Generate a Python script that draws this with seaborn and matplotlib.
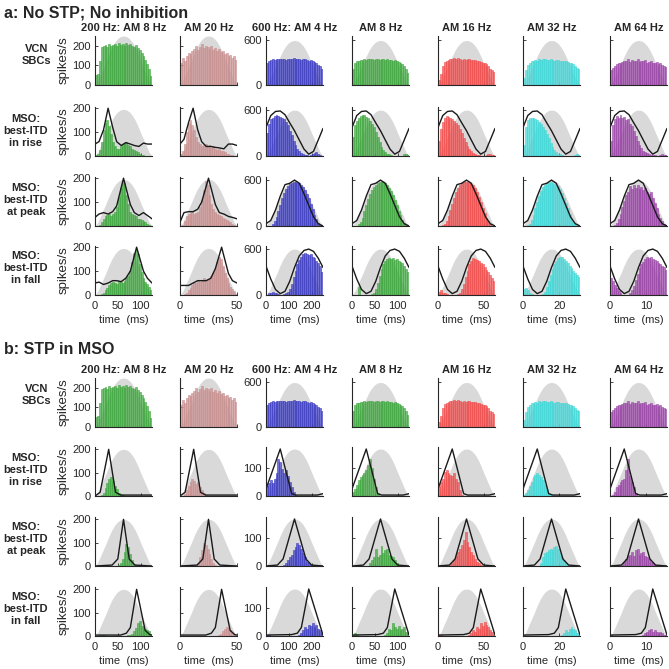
import numpy as np
import pandas as pd
import seaborn as sns
import matplotlib.pyplot as plt


# ---- stimulus columns ----
col_titles = ["200 Hz: AM 8 Hz", "AM 20 Hz", "600 Hz: AM 4 Hz", "AM 8 Hz",
              "AM 16 Hz", "AM 32 Hz", "AM 64 Hz"]
periods = [125, 50, 250, 125, 62.5, 31.25, 15.625]
col_colors = ["#3fa83f", "#c98f8f", "#3c3cc4", "#3fa83f", "#f24c4c", "#40d8d8", "#9b45a8"]
x_ticks = [[0, 50, 100], [0, 50], [0, 100, 200], [0, 50, 100], [0, 50], [0, 20], [0, 10]]
row_labels = ["VCN\nSBCs", "MSO:\nbest-ITD\nin rise", "MSO:\nbest-ITD\nat peak", "MSO:\nbest-ITD\nin fall"]

# ---- grey stimulus envelope (normalised, one period) ----
env_phase = [0, .05, .1, .15, .2, .25, .3, .35, .4, .45, .5, .55, .6, .65, .7, .75, .8, .85, .9, .95, 1]
env_shape = [0, .08, .22, .36, .5, .65, .78, .88, .95, .99, 1, .99, .95, .88, .78, .65, .5, .36, .22, .08, 0]

# ---- VCN SBC PSTHs (spikes/s), same in a and b ----
vcn_hist = [
    [50, 55, 120, 195, 200, 205, 195, 210, 200, 205, 210, 200, 215, 205, 210, 200, 215, 205, 210, 200, 195, 205, 190, 180, 165, 150, 130, 105, 80, 45],
    [110, 140, 125, 150, 165, 160, 175, 185, 200, 180, 195, 210, 190, 200, 195, 185, 200, 180, 190, 175, 185, 170, 175, 160, 165, 150, 155, 140, 150, 130],
    [290, 330, 340, 345, 340, 350, 345, 355, 345, 350, 340, 355, 350, 345, 360, 350, 345, 350, 340, 345, 350, 340, 330, 335, 320, 305, 290, 270, 250, 220],
    [210, 300, 320, 330, 340, 335, 345, 340, 350, 345, 355, 340, 350, 345, 340, 350, 345, 340, 345, 335, 340, 330, 335, 320, 310, 300, 280, 260, 220, 160],
    [70, 150, 250, 310, 330, 340, 350, 345, 360, 350, 370, 345, 340, 355, 340, 350, 345, 340, 335, 340, 330, 320, 310, 300, 290, 280, 250, 220, 200, 180],
    [100, 200, 270, 300, 320, 330, 340, 330, 345, 340, 350, 345, 340, 335, 345, 340, 330, 335, 340, 330, 320, 330, 320, 310, 300, 290, 280, 260, 230, 210],
    [200, 230, 260, 280, 300, 290, 310, 330, 320, 350, 310, 340, 330, 320, 350, 310, 330, 320, 340, 300, 310, 320, 300, 290, 310, 280, 290, 270, 260, 240],
]

# ---- a: MSO PSTHs, no STP ----
a_rise_hist = [
    [5, 10, 25, 60, 110, 140, 150, 125, 90, 60, 40, 30, 30, 40, 50, 55, 60, 45, 40, 30, 25, 20, 15, 10, 5, 3, 2, 0, 0, 0],
    [10, 20, 50, 100, 140, 150, 130, 110, 80, 60, 50, 40, 45, 50, 40, 45, 35, 40, 30, 25, 30, 20, 20, 15, 10, 8, 5, 3, 2, 0],
    [300, 420, 480, 500, 520, 530, 520, 510, 500, 480, 440, 400, 330, 270, 200, 140, 90, 60, 40, 25, 15, 10, 5, 10, 20, 40, 50, 30, 10, 5],
    [250, 400, 460, 500, 520, 540, 530, 510, 490, 460, 420, 380, 320, 250, 180, 120, 80, 50, 30, 20, 10, 5, 5, 3, 2, 2, 5, 20, 30, 10],
    [200, 350, 450, 500, 520, 510, 500, 480, 460, 430, 400, 350, 300, 240, 180, 130, 90, 60, 40, 25, 15, 10, 5, 5, 5, 10, 20, 25, 15, 10],
    [150, 380, 470, 500, 500, 490, 480, 470, 450, 420, 380, 340, 290, 230, 170, 120, 80, 50, 30, 20, 10, 5, 5, 3, 2, 3, 5, 15, 20, 10],
    [200, 400, 480, 520, 500, 540, 490, 510, 470, 480, 420, 390, 330, 260, 200, 150, 110, 70, 50, 40, 25, 15, 10, 10, 5, 5, 10, 20, 15, 10],
]
a_peak_hist = [
    [0, 0, 5, 15, 30, 40, 45, 50, 40, 50, 60, 80, 120, 160, 190, 180, 130, 90, 60, 50, 45, 40, 30, 30, 25, 20, 15, 10, 5, 0],
    [0, 5, 20, 40, 50, 55, 60, 50, 55, 60, 80, 110, 150, 190, 170, 130, 90, 70, 60, 50, 45, 40, 35, 30, 25, 20, 15, 10, 5, 0],
    [0, 0, 0, 20, 60, 120, 200, 280, 360, 430, 480, 520, 550, 560, 570, 570, 565, 560, 540, 510, 470, 420, 360, 290, 220, 150, 90, 40, 10, 0],
    [0, 0, 5, 20, 50, 110, 190, 270, 350, 420, 470, 510, 540, 560, 570, 575, 570, 560, 540, 500, 460, 400, 340, 270, 200, 140, 80, 40, 10, 0],
    [0, 0, 10, 30, 70, 130, 210, 290, 370, 440, 490, 530, 560, 570, 580, 575, 565, 555, 530, 490, 440, 380, 310, 240, 170, 110, 60, 25, 5, 0],
    [0, 5, 10, 30, 80, 150, 230, 310, 390, 460, 510, 540, 560, 565, 570, 560, 555, 540, 520, 480, 430, 370, 300, 230, 160, 100, 50, 20, 5, 0],
    [0, 5, 15, 40, 90, 160, 250, 330, 400, 450, 520, 480, 540, 500, 530, 480, 510, 470, 500, 450, 420, 440, 360, 300, 230, 160, 100, 60, 30, 10],
]
a_fall_hist = [
    [0, 0, 0, 5, 10, 20, 30, 40, 50, 55, 50, 45, 60, 55, 50, 60, 70, 80, 100, 140, 175, 190, 170, 130, 95, 70, 55, 45, 35, 20],
    [0, 0, 5, 10, 20, 30, 40, 50, 50, 60, 55, 60, 70, 60, 65, 70, 80, 90, 110, 140, 160, 150, 120, 90, 70, 50, 35, 25, 15, 5],
    [0, 20, 30, 40, 30, 20, 10, 5, 5, 10, 20, 40, 80, 150, 230, 320, 400, 460, 500, 530, 550, 540, 520, 530, 500, 480, 450, 420, 380, 300],
    [0, 0, 5, 100, 5, 0, 0, 0, 0, 5, 10, 30, 80, 160, 250, 340, 400, 450, 470, 480, 470, 480, 460, 470, 450, 430, 420, 380, 340, 300],
    [40, 60, 30, 20, 10, 5, 0, 0, 0, 5, 10, 30, 80, 150, 240, 320, 400, 450, 480, 470, 460, 440, 420, 400, 360, 330, 300, 260, 220, 180],
    [80, 90, 60, 30, 10, 5, 0, 0, 0, 5, 10, 40, 100, 180, 260, 340, 400, 440, 480, 500, 490, 470, 450, 420, 380, 350, 320, 290, 260, 230],
    [220, 180, 130, 90, 50, 20, 5, 0, 0, 5, 20, 60, 120, 200, 280, 350, 400, 430, 470, 500, 480, 500, 470, 460, 440, 420, 400, 380, 360, 330],
]

# ---- b: MSO PSTHs, STP in MSO ----
b_rise_hist = [
    [0, 0, 0, 5, 15, 35, 55, 75, 80, 65, 45, 30, 15, 8, 3, 0, 0, 0, 0, 0, 0, 0, 0, 0, 0, 0, 0, 0, 0, 0],
    [0, 0, 10, 25, 45, 60, 75, 65, 50, 60, 40, 25, 15, 5, 0, 0, 0, 0, 0, 0, 0, 0, 0, 0, 0, 0, 0, 0, 0, 0],
    [35, 45, 55, 45, 60, 80, 130, 120, 95, 80, 90, 70, 50, 30, 15, 5, 0, 0, 0, 0, 0, 0, 0, 0, 0, 0, 0, 0, 0, 0],
    [15, 25, 40, 55, 65, 75, 80, 90, 110, 130, 100, 60, 30, 10, 0, 0, 0, 0, 0, 0, 0, 0, 0, 0, 0, 0, 0, 0, 0, 0],
    [30, 50, 60, 85, 90, 80, 75, 70, 80, 60, 50, 20, 5, 0, 0, 0, 0, 0, 0, 0, 0, 0, 0, 0, 0, 0, 0, 0, 0, 0],
    [5, 10, 20, 35, 50, 65, 75, 80, 75, 65, 55, 40, 25, 10, 5, 0, 0, 0, 0, 0, 0, 0, 0, 0, 0, 0, 0, 0, 0, 0],
    [0, 5, 15, 30, 40, 50, 55, 60, 90, 130, 70, 50, 30, 10, 0, 0, 0, 0, 0, 0, 0, 0, 0, 0, 0, 0, 0, 0, 0, 0],
]
b_peak_hist = [
    [0, 0, 0, 0, 0, 0, 0, 0, 0, 0, 0, 0, 5, 15, 30, 60, 95, 80, 50, 25, 10, 5, 0, 0, 0, 0, 0, 0, 0, 0],
    [0, 0, 0, 0, 0, 0, 0, 0, 5, 15, 40, 70, 100, 90, 75, 50, 30, 15, 5, 0, 0, 0, 0, 0, 0, 0, 0, 0, 0, 0],
    [0, 0, 0, 0, 0, 0, 0, 0, 0, 5, 10, 20, 30, 40, 55, 65, 80, 75, 60, 45, 30, 15, 10, 5, 3, 0, 0, 0, 0, 0],
    [0, 0, 0, 0, 0, 0, 0, 0, 0, 10, 20, 30, 60, 30, 40, 70, 45, 55, 60, 40, 35, 30, 20, 10, 0, 0, 0, 0, 0, 0],
    [0, 0, 0, 0, 0, 0, 5, 10, 20, 35, 50, 60, 75, 90, 120, 85, 65, 50, 40, 25, 15, 10, 5, 0, 0, 0, 0, 0, 0, 0],
    [0, 0, 0, 0, 0, 0, 0, 0, 0, 10, 30, 45, 50, 55, 60, 55, 65, 70, 60, 45, 30, 20, 10, 5, 0, 0, 0, 0, 0, 0],
    [0, 0, 0, 0, 0, 0, 5, 15, 25, 35, 40, 50, 35, 55, 60, 40, 45, 50, 35, 30, 25, 15, 10, 5, 0, 0, 0, 0, 0, 0],
]
b_fall_hist = [
    [0, 0, 3, 5, 3, 0, 0, 0, 0, 0, 0, 0, 0, 0, 0, 0, 0, 3, 5, 10, 20, 35, 55, 65, 45, 40, 30, 25, 20, 5],
    [0, 0, 0, 0, 0, 0, 0, 0, 0, 0, 0, 0, 0, 0, 0, 0, 0, 0, 0, 0, 5, 10, 20, 30, 40, 35, 25, 15, 5, 0],
    [5, 3, 0, 0, 0, 0, 0, 0, 0, 0, 0, 0, 0, 0, 0, 0, 0, 5, 10, 20, 30, 25, 40, 35, 45, 30, 40, 25, 20, 10],
    [5, 10, 5, 0, 0, 0, 0, 0, 0, 0, 0, 0, 0, 0, 0, 0, 0, 5, 10, 25, 20, 45, 30, 25, 35, 20, 25, 30, 15, 10],
    [5, 3, 0, 0, 0, 0, 0, 0, 0, 0, 0, 0, 0, 0, 0, 0, 5, 10, 20, 15, 30, 25, 45, 35, 50, 40, 30, 20, 15, 5],
    [2, 0, 0, 0, 0, 0, 0, 0, 0, 0, 0, 0, 0, 0, 0, 0, 0, 0, 0, 0, 5, 10, 20, 15, 25, 30, 25, 20, 10, 3],
    [3, 0, 0, 0, 0, 0, 0, 0, 0, 0, 0, 0, 0, 0, 0, 0, 0, 5, 10, 15, 20, 25, 15, 20, 15, 10, 15, 10, 5, 3],
]

# ---- black model curves (normalised to their peak) ----
# a, 200 Hz columns (col 1, col 2)
a_lo_phase = {
    "rise": [0, .07, .15, .23, .31, .38, .46, .54, .62, .69, .77, .85, .92, 1.0],
    "peak": [0, .07, .15, .23, .31, .38, .5, .62, .69, .77, .85, .92, 1.0],
    "fall": [0, .07, .15, .23, .31, .38, .46, .54, .62, .73, .85, .92, 1.0],
}
a_lo_line = {
    "rise": [[.25, .3, .55, 1.0, .6, .3, .22, .28, .25, .22, .2, .27, .25, .25],
             [.25, .35, .7, 1.0, .55, .3, .2, .2, .18, .17, .15, .25, .25, .22]],
    "peak": [[.18, .25, .28, .25, .3, .42, 1.0, .45, .28, .22, .28, .22, .15],
             [.08, .28, .3, .3, .35, .5, 1.0, .45, .28, .25, .2, .18, .15]],
    "fall": [[.25, .27, .22, .25, .3, .3, .28, .35, .5, 1.0, .5, .35, .25],
             [.2, .2, .2, .25, .3, .3, .3, .35, .55, 1.0, .45, .3, .25]],
}
# a, 600 Hz columns (cols 3-7)
a_hi_phase = [0, .083, .167, .25, .333, .417, .5, .583, .667, .75, .833, .917, 1.0]
a_hi_line = {
    "rise": [.62, .88, .97, .98, .9, .72, .55, .35, .15, .04, .1, .35, .6],
    "peak": [.05, .12, .35, .65, .9, .93, 1.0, .93, .7, .45, .2, .05, 0],
    "fall": [.63, .35, .12, .03, .08, .3, .6, .85, .97, 1.0, .95, .8, .6],
}
# b, triangles
b_lo_phase = {"rise": [0, .09, .24, .36, .45, 1.0],
              "peak": [0, .3, .4, .5, .6, .7, 1.0],
              "fall": [0, .45, .55, .62, .73, .88, .96, 1.0]}
b_lo_line = {"rise": [0, .08, 1.0, .08, .02, .02],
             "peak": [0, .02, .15, 1.0, .15, .02, 0],
             "fall": [.02, .02, .06, .18, 1.0, .12, .03, .02]}
b_hi_phase = {"rise": [0, .25, .45, .52, .9, 1.0],
              "peak": [0, .2, .3, .5, .7, .8, 1.0],
              "fall": [0, .45, .55, .62, .75, 1.0]}
b_hi_line = {"rise": [.15, 1.0, .05, .02, .02, .05],
             "peak": [0, .02, .15, 1.0, .15, .02, 0],
             "fall": [.02, .03, .06, .18, 1.0, .02]}

GREY = "#d9d9d9"
AXC = "#262626"


def draw_panel(ax, period, color, hist, env_peak, ylim, yticks, xticks,
               line_ph=None, line_vals=None, line_peak=None):
    env_x = [p * period for p in env_phase]
    env_y = [v * env_peak for v in env_shape]
    ax.fill_between(env_x, env_y, color=GREY, lw=0, zorder=0)
    nbin = len(hist)
    centers = [(i + 0.5) * period / nbin for i in range(nbin)]
    sns.histplot(x=centers, weights=hist, bins=nbin, binrange=(0, period),
                 color=color, alpha=0.72, linewidth=0.4, edgecolor=color,
                 shrink=1.0, ax=ax, zorder=1)
    if line_vals is not None:
        sns.lineplot(x=[p * period for p in line_ph], y=[v * line_peak for v in line_vals],
                     color="k", lw=1, ax=ax, zorder=2)
    ax.set_xlim(0, period)
    ax.set_ylim(*ylim)
    ax.set_yticks(yticks)
    ax.set_xticks(xticks)
    ax.set_xlabel("")
    ax.set_ylabel("")
    sns.despine(ax=ax)
    for s in ["left", "bottom"]:
        ax.spines[s].set_color(AXC)
        ax.spines[s].set_linewidth(0.8)
    ax.tick_params(direction="in", length=2, width=0.6, colors=AXC, labelsize=8, pad=3)
    ax.tick_params(axis="x", pad=4)


sns.set_theme(style="ticks")
plt.rcParams["font.family"] = ["Liberation Sans", "DejaVu Sans"]

W = 669.0
fig = plt.figure(figsize=(6.69, 6.69), dpi=100)

col_left = [95, 180, 266, 352, 438, 523, 610]
col_w = 57
row_h = 49
row_tops = {"a": [36, 107, 177, 246], "b": [378, 447, 517, 587]}
label_y = {"a": [55, 131, 200, 268], "b": [395, 470, 539, 609]}
title_y = {"a": 28, "b": 370}
head_y = {"a": 13, "b": 350}
heads = {"a": "a: No STP; No inhibition", "b": "b: STP in MSO"}

fig.patch.set_facecolor("white")

for panel in ["a", "b"]:
    fig.text(4 / W, 1 - head_y[panel] / W, heads[panel], fontsize=11.5, fontweight="bold",
             ha="left", va="center")
    mso_hists = [a_rise_hist, a_peak_hist, a_fall_hist] if panel == "a" else \
        [b_rise_hist, b_peak_hist, b_fall_hist]
    for r in range(4):
        lx = 37 if r == 0 else 26
        fig.text(lx / W, 1 - label_y[panel][r] / W, row_labels[r], fontsize=8, fontweight="bold",
                 ha="center", va="center", linespacing=1.25)
        for c in range(7):
            lo = c < 2
            top = row_tops[panel][r]
            ax = fig.add_axes([col_left[c] / W, 1 - (top + row_h) / W, col_w / W, row_h / W])
            if r == 0:
                hist = vcn_hist[c]
                env_peak = 250 if lo else 600
                ylim = (0, 250) if lo else (0, 660)
                yt = [0, 100, 200] if lo else [0, 600]
                lph = lv = lpk = None
            else:
                key = ["rise", "peak", "fall"][r - 1]
                hist = mso_hists[r - 1][c]
                if panel == "a":
                    if lo:
                        env_peak, ylim, yt, lpk = 195, (0, 205), [0, 100, 200], 200
                        lph, lv = a_lo_phase[key], a_lo_line[key][c]
                    else:
                        env_peak, ylim, yt, lpk = 600, (0, 640), [0, 600], 600
                        lph, lv = a_hi_phase, a_hi_line[key]
                else:
                    if lo:
                        env_peak, ylim, yt, lpk = 200, (0, 210), [0, 100, 200], 200
                        lph, lv = b_lo_phase[key], b_lo_line[key]
                    else:
                        env_peak, ylim, yt, lpk = 165, (0, 172), [0, 100], 165
                        lph, lv = b_hi_phase[key], b_hi_line[key]
            draw_panel(ax, periods[c], col_colors[c], hist, env_peak, ylim, yt, x_ticks[c],
                       lph, lv, lpk)
            if c not in (0, 2):
                ax.set_yticklabels([])
            if r < 3:
                ax.set_xticklabels([])
            else:
                ax.set_xlabel("time  (ms)", fontsize=8, color=AXC, labelpad=3)
            if c == 0:
                ax.set_ylabel("spikes/s", fontsize=9.5, color=AXC)
                ax.yaxis.set_label_coords(-0.45, 0.5)
            if r == 0:
                fig.text((col_left[c] + col_w / 2) / W, 1 - title_y[panel] / W, col_titles[c],
                         fontsize=8, fontweight="bold", ha="center", va="center")

fig.savefig("out.png", dpi=100, facecolor="white")
